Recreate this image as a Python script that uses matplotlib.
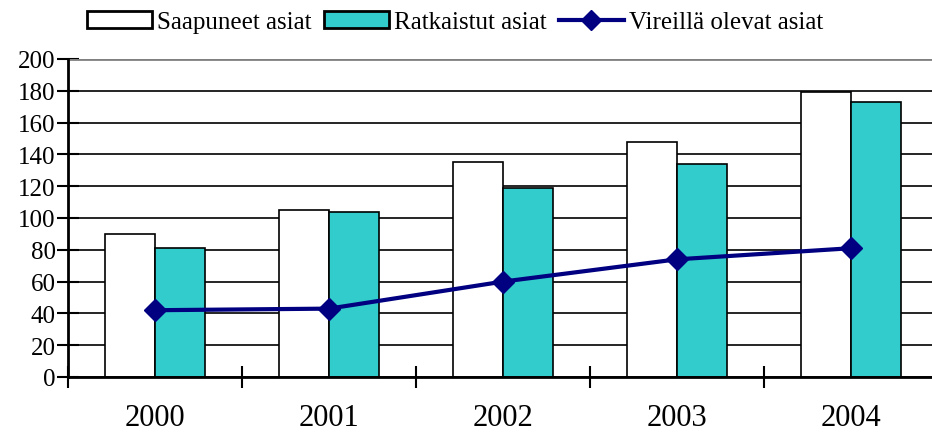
import matplotlib
matplotlib.use('Agg')
import matplotlib.pyplot as plt
import numpy as np
from matplotlib.patches import Patch
from matplotlib.lines import Line2D

years = ['2000', '2001', '2002', '2003', '2004']
saapuneet = [90, 105, 135, 148, 179]
ratkaistut = [81, 104, 119, 134, 173]
vireilla = [42, 43, 60, 74, 81]

plt.rcParams['font.family'] = 'Liberation Serif'

fig = plt.figure(figsize=(9.32, 4.35), dpi=100)
# axis runs a little past the right edge, like the original
ax = fig.add_axes([68 / 932, (435 - 378) / 435, 870 / 932, 318 / 435])

x = np.arange(len(years))
w = 0.287
ax.bar(x - w / 2, saapuneet, width=w, color='white', edgecolor='black', linewidth=1.2, zorder=2)
ax.bar(x + w / 2, ratkaistut, width=w, color='#33CCCC', edgecolor='black', linewidth=1.2, zorder=2)
ax.plot(x, vireilla, color='#000080', linewidth=3, marker='D', markersize=11, zorder=3)

ax.set_xlim(-0.5, len(years) - 0.5)
ax.set_ylim(0, 200)
ax.set_yticks(range(0, 201, 20))
ax.yaxis.grid(True, color='black', linewidth=1.2, zorder=0)
ax.set_axisbelow(True)

# category labels between tick marks at the boundaries
ax.set_xticks(np.arange(-0.5, len(years)), minor=False)
ax.set_xticklabels([])
ax.set_xticks(x, minor=True)
ax.set_xticklabels(years, minor=True, fontsize=22)
ax.tick_params(axis='x', which='minor', length=0, pad=19)
ax.tick_params(axis='x', which='major', direction='inout', length=16, width=1.5)
ax.tick_params(axis='y', direction='inout', length=16, width=1.5, labelsize=18, pad=1)

for s in ['top', 'right']:
    ax.spines[s].set_visible(False)
ax.spines['left'].set_linewidth(2)
ax.spines['bottom'].set_linewidth(2)
ax.axhline(200, color='gray', linewidth=2, zorder=1)

handles = [
    Patch(facecolor='white', edgecolor='black', linewidth=2, label='Saapuneet asiat'),
    Patch(facecolor='#33CCCC', edgecolor='black', linewidth=2, label='Ratkaistut asiat'),
    Line2D([], [], color='#000080', linewidth=3, marker='D', markersize=10, label='Vireillä olevat asiat'),
]
fig.legend(handles=handles, loc='center', bbox_to_anchor=(455 / 932, 1 - 23 / 435), ncol=3,
           frameon=False, fontsize=18, handlelength=2.6, handletextpad=0.2, columnspacing=0.5)

plt.savefig('out.png', dpi=100)
